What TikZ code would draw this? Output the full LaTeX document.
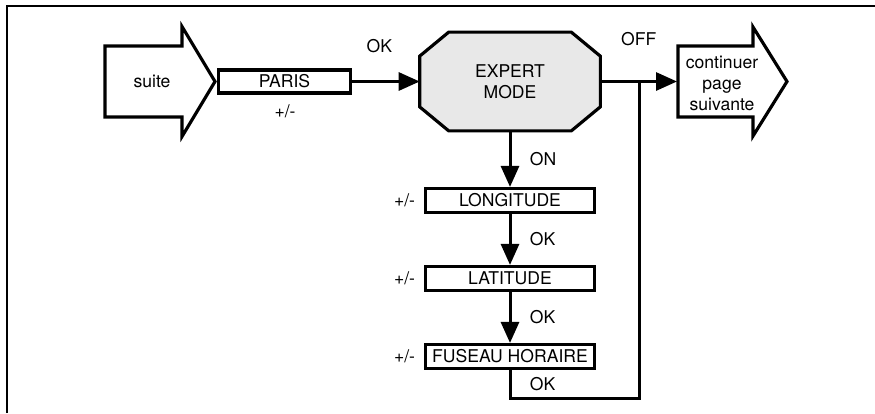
\documentclass[tikz,border=0pt]{standalone}
\usepackage{fontspec}
\setmainfont{TeX Gyre Heros}
\usetikzlibrary{arrows.meta,backgrounds}

\definecolor{gris}{gray}{0.91}

\begin{document}
\begin{tikzpicture}[x=0.02cm, y=-0.02cm,
    every node/.style={font=\fontsize{10}{12}\selectfont},
    boite/.style={draw, line width=1.8pt, minimum width=3.38cm, minimum height=0.48cm, inner sep=0pt},
    fleche/.style={line width=1.7pt, -{Triangle[length=0.42cm, width=0.36cm]}},
    lien/.style={line width=1.7pt},
    etiq/.style={right=0.37cm, inner sep=0pt}]
  % Cadre
  \useasboundingbox (0,0) rectangle (875,413);
  \draw[line width=1.2pt] (7,413) -- (7,6) -- (875,6);

  % Grandes flèches
  \draw[line width=1.8pt] (105,46) -- (182,46) -- (182,26.5) -- (215,81.5) -- (182,136.5) -- (182,117) -- (105,117) -- cycle;
  \node (suite) at (152,81.5) {suite};
  \draw[line width=1.8pt] (678,46) -- (753,46) -- (753,27) -- (787,81.5) -- (753,136) -- (753,117) -- (678,117) -- cycle;
  \node (continuer) [align=center] at (722,83) {continuer\\page\\suivante};
  \coordinate (entree) at (677,81.5);

  % Boîtes
  \node (paris) [boite, minimum width=2.64cm, minimum height=0.46cm] at (284.5,81.5) {PARIS};
  \node (pmparis) at (285,111.5) {+/-};
  \node (expert) [minimum width=3.6cm, minimum height=1.96cm, inner sep=0pt, align=center] at (510,81.5) {EXPERT\\MODE};
  \begin{scope}[on background layer]
    \draw[line width=1.8pt, fill=gris]
      ([xshift=0.58cm]expert.north west) -- ([xshift=-0.58cm]expert.north east)
      -- ([yshift=-0.48cm]expert.north east) -- ([yshift=0.48cm]expert.south east)
      -- ([xshift=-0.58cm]expert.south east) -- ([xshift=0.58cm]expert.south west)
      -- ([yshift=0.48cm]expert.south west) -- ([yshift=-0.48cm]expert.north west) -- cycle;
  \end{scope}
  \node (longitude) [boite] at (510,200.5) {LONGITUDE};
  \node (latitude) [boite] at (510,278.5) {LATITUDE};
  \node (fuseau) [boite] at (510,356.5) {FUSEAU HORAIRE};
  \node (pmlong) [left=0.17cm, inner sep=0pt] at (longitude.west) {+/-};
  \node (pmlat) [left=0.17cm, inner sep=0pt] at (latitude.west) {+/-};
  \node (pmfus) [left=0.17cm, inner sep=0pt] at (fuseau.west) {+/-};

  % Liaisons
  \draw[fleche] (paris) -- node (okparis) [above=0.55cm, xshift=-0.13cm, inner sep=0pt] {OK} (expert);
  \draw[fleche] (expert) -- node (on) [etiq] {ON} (longitude);
  \draw[fleche] (longitude) -- node (oklong) [etiq] {OK} (latitude);
  \draw[fleche] (latitude) -- node (oklat) [etiq] {OK} (fuseau);
  \draw[fleche] (expert) -- node (off) [above=0.69cm, inner sep=0pt] {OFF} (entree);
  \coordinate (jonction) at (639,81.5);
  \draw[lien] (fuseau.south) -- node (okfus) [etiq] {OK} ++(0,28.5) -| (jonction);
\end{tikzpicture}
\end{document}
